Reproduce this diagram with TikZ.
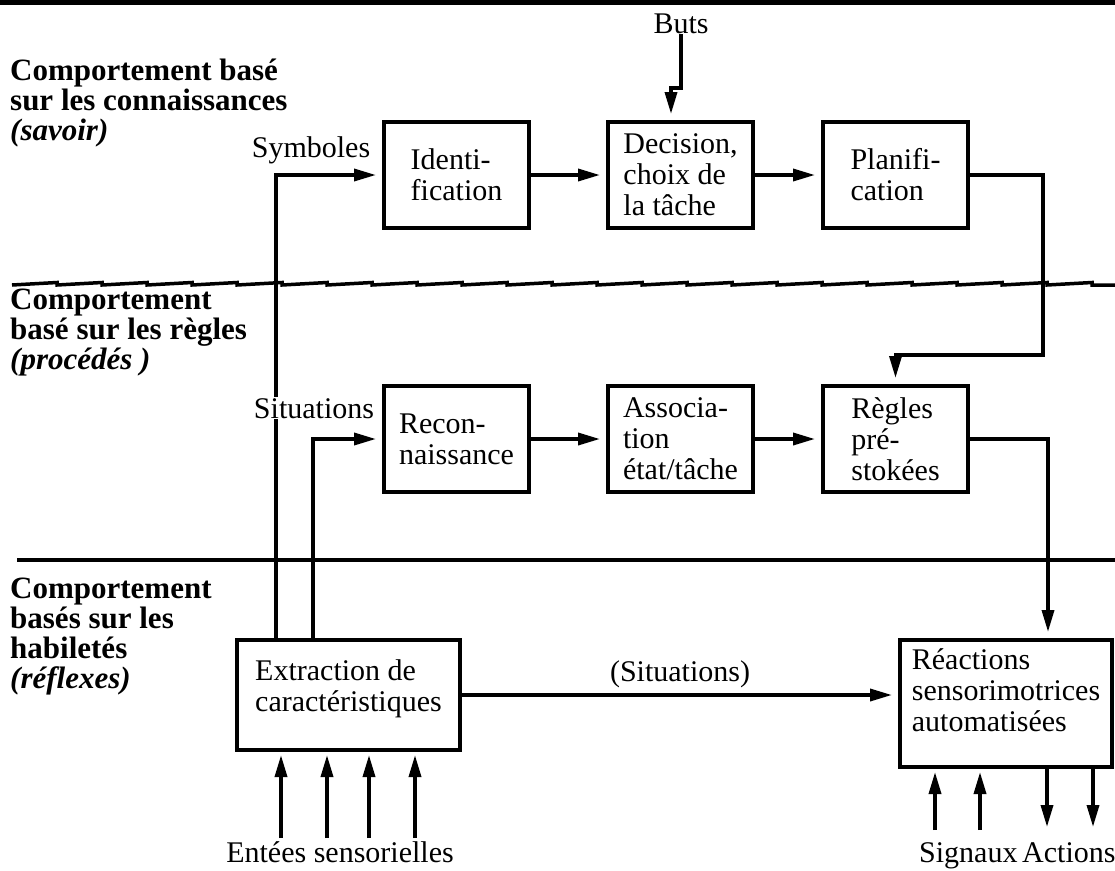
\documentclass[tikz,border=0pt]{standalone}
\usepackage{fontspec}
\setmainfont{Liberation Serif}
\usepackage{tikz}
\usetikzlibrary{positioning}
\usetikzlibrary{arrows.meta}
\usetikzlibrary{decorations.pathmorphing}

\begin{document}
\begin{tikzpicture}[
  x=1pt, y=-1pt,
  font=\fontsize{30}{31}\selectfont,
  box/.style={draw, line width=3.5pt, align=left, minimum width=145pt, minimum height=106pt, inner sep=0pt, outer sep=0pt},
  level/.style={anchor=base west, align=left, inner sep=0pt, font=\fontsize{31}{30}\selectfont\bfseries},
  lbl/.style={anchor=base, inner sep=1pt},
  conn/.style={line width=3.5pt},
  arrow/.style={conn, -{Triangle[length=22pt,width=12pt]}, shorten >=8pt},
  sawline/.style={line width=3.5pt, decorate, decoration={saw, segment length=45pt, amplitude=2.5pt}}
]
\useasboundingbox (0,0) rectangle (1115,870);

% Frame line on top
\draw[line width=5pt] (0,2) -- (1115,2);

% Level separators
\draw[sawline] (12,285) -- (1115,285);
\draw[conn] (17,560) -- (1115,560);

% Level names (base = last line)
\node[level] (know) at (10,140) {Comportement basé\\sur les connaissances\\\textit{(savoir)}};
\node[level] (rules) at (10,369) {Comportement\\basé sur les règles\\\textit{(procédés )}};
\node[level] (skill) at (10,688) {Comportement\\basés sur les\\habiletés\\\textit{(réflexes)}};

% Knowledge row
\node[box] (ident) at (456.5,175) {Identi-\\fication};
\node[box, right=79pt of ident] (dec) {Decision,\\choix de\\la tâche};
\node[box, right=70pt of dec] (plan) {Planifi-\\cation};

% Rules row
\node[box, below=158pt of ident] (recon) {Recon-\\naissance};
\node[box, below=158pt of dec] (assoc) {Associa-\\tion\\état/tâche};
\node[box, below=158pt of plan] (regles) {Règles\\pré-\\stokées};

% Skill row
\node[box, anchor=north west, minimum width=223pt, minimum height=110pt] (extract) at (237,640) {Extraction de\\caractéristiques\\[-12pt]\mbox{}};
\node[box, anchor=north west, minimum width=212pt, minimum height=127pt] (react) at (900,640) {Réactions\\sensorimotrices\\automatisées\\[-5pt]\mbox{}};

% Goals
\node[lbl] (buts) at (681,33) {Buts};
\coordinate (butsjog) at (671,88);
\draw[arrow] (buts.south) |- (butsjog) -- (butsjog |- dec.north);

% Flow in the rows
\draw[arrow] (ident) -- (dec);
\draw[arrow] (dec) -- (plan);
\draw[arrow] (recon) -- (assoc);
\draw[arrow] (assoc) -- (regles);

% Going down the levels
\coordinate (planturn) at (1043,355);
\draw[arrow] (plan.east) -| (planturn) -| (regles.north);
\draw[arrow] (regles.east) -| ([xshift=42pt]react.north);

% Going up from the features
\draw[arrow] ([xshift=39pt]extract.north west) |- (ident);
\draw[arrow] ([xshift=76pt]extract.north west) |- (recon);
\node[lbl] (symb) at (311,157) {Symboles};
\node[lbl, fill=white] (situ) at (314,418) {Situations};

\draw[arrow] (extract.east) -- node[above, yshift=2pt] (situ2) {(Situations)} (extract.east -| react.west);

% Inputs and outputs
\foreach \x in {281,327,369,415}
  \draw[arrow, shorten >=5pt] (\x,838) -- (\x,838 |- extract.south);
\foreach \x in {935,980}
  \draw[arrow, shorten >=5pt] (\x,830) -- (\x,830 |- react.south);
\foreach \x in {1047,1093}
  \draw[arrow, shorten >=3pt] (\x,830 |- react.south) -- (\x,830);

\node[lbl] (sens) at (340,862) {Entées sensorielles};
\node[lbl, anchor=base west] (signaux) at (918,862) {Signaux};
\node[lbl, anchor=base west] (actions) at (1021,862) {Actions};

\end{tikzpicture}
\end{document}
